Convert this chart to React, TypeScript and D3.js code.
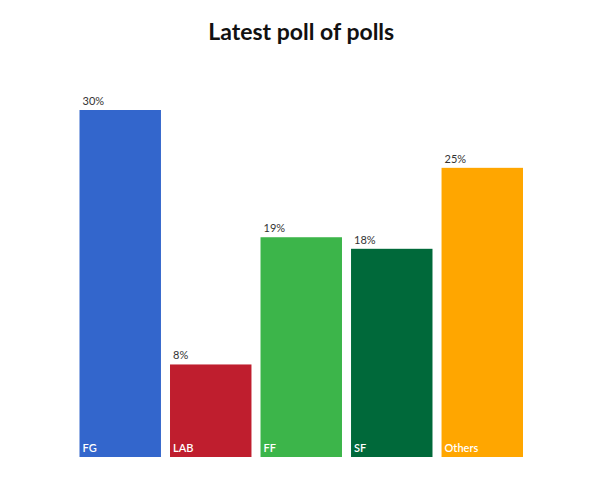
import * as d3 from "d3";

const parties = ["FG", "LAB", "FF", "SF", "Others"];
const shares = [30, 8, 19, 18, 25];
const colors = ["#3366cc", "#bf1e2e", "#3cb54a", "#00693a", "#ffa600"];

const width = 614;
const height = 480;
const margin = { top: 110, right: 91, bottom: 23, left: 79.5 };

export default function App() {
  const x = d3
    .scaleBand<string>()
    .domain(parties)
    .range([margin.left, width - margin.right])
    .paddingInner(0.1)
    .paddingOuter(0);

  const y = d3
    .scaleLinear()
    .domain([0, 30])
    .range([height - margin.bottom, margin.top]);

  const font = "'Source Sans Pro', Lato, 'Open Sans', sans-serif";

  return (
    <svg
      width={width}
      height={height}
      style={{ position: "absolute", top: 0, left: 0, background: "#fff" }}
    >
      <text
        x={(margin.left + width - margin.right) / 2}
        y={40}
        textAnchor="middle"
        fontFamily={font}
        fontWeight="bold"
        fontSize={23}
        fill="#111"
      >
        Latest poll of polls
      </text>
      {parties.map((p, i) => {
        const bx = x(p)!;
        const by = y(shares[i]);
        return (
          <g key={p}>
            <rect
              x={bx}
              y={by}
              width={x.bandwidth()}
              height={y(0) - by}
              fill={colors[i]}
            />
            <text
              x={bx + 3}
              y={by - 5}
              fontFamily={font}
              fontSize={11}
              fill="#333"
            >
              {shares[i]}%
            </text>
            <text
              x={bx + 3}
              y={y(0) - 5}
              fontFamily={font}
              fontSize={11}
              fontWeight={600}
              fill="#fff"
            >
              {p}
            </text>
          </g>
        );
      })}
    </svg>
  );
}
